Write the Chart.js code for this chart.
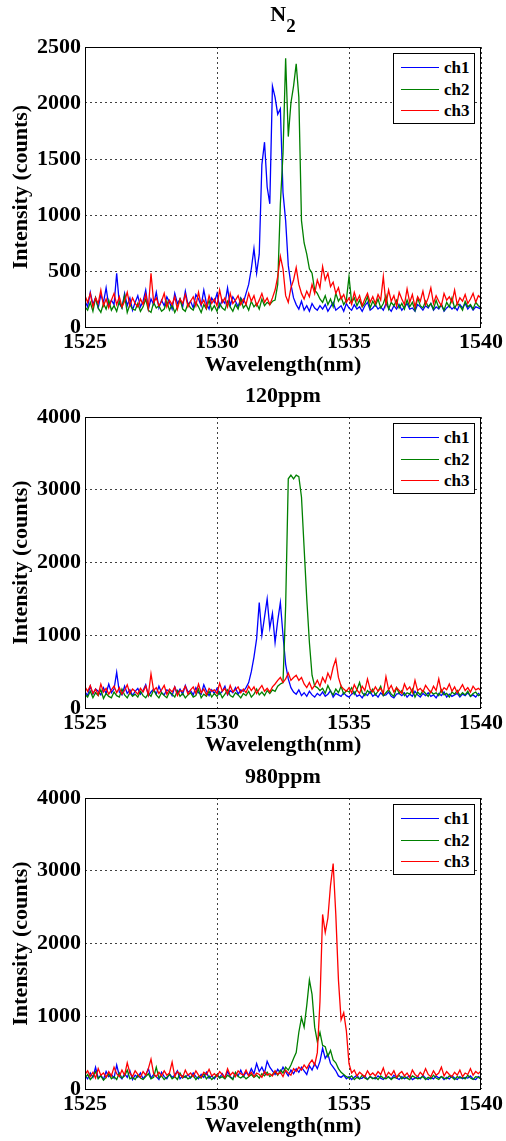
<!DOCTYPE html>
<html>
<head>
<meta charset="utf-8">
<script src="https://cdn.jsdelivr.net/npm/chart.js@4.4.1/dist/chart.umd.min.js"></script>
<style>
body { margin: 0; background: #fff; overflow: hidden; }
#wrap { position: relative; width: 506px; height: 1141px; font-family: "Liberation Serif", "Times New Roman", serif; font-weight: bold; color: #000; }
canvas { position: absolute; left: 0; }
.ttl { position: absolute; left: 183px; width: 200px; text-align: center; font-size: 22px; line-height: 22px; }
.ttl .sub { font-size: 19px; position: relative; top: 11px; }
.lgd { position: absolute; left: 393px; width: 82px; height: 71px; box-sizing: border-box; border: 1px solid #000; background: #fff; }
.row { position: absolute; left: 0; width: 80px; height: 20px; line-height: 20px; font-size: 17px; }
.row i { position: absolute; left: 7px; top: 9px; width: 38px; height: 0; border-top: 1px solid; }
.row span { position: absolute; left: 50px; }
</style>
</head>
<body>
<div id="wrap">
  <canvas id="c1" width="506" height="380" style="top:0px"></canvas>
  <canvas id="c2" width="506" height="380" style="top:380px"></canvas>
  <canvas id="c3" width="506" height="381" style="top:760px"></canvas>
  <div class="ttl" style="top:3px">N<span class="sub">2</span></div>
  <div class="ttl" style="top:384px">120ppm</div>
  <div class="ttl" style="top:765px">980ppm</div>
  <div class="lgd" style="top:53px"></div>
  <div class="lgd" style="top:423px"></div>
  <div class="lgd" style="top:804px"></div>
</div>
<script>
var wavelength = [
  1525.0,1525.1,1525.2,1525.3,1525.4,1525.5,1525.6,1525.7,1525.8,1525.9,
  1526.0,1526.1,1526.2,1526.3,1526.4,1526.5,1526.6,1526.7,1526.8,1526.9,
  1527.0,1527.1,1527.2,1527.3,1527.4,1527.5,1527.6,1527.7,1527.8,1527.9,
  1528.0,1528.1,1528.2,1528.3,1528.4,1528.5,1528.6,1528.7,1528.8,1528.9,
  1529.0,1529.1,1529.2,1529.3,1529.4,1529.5,1529.6,1529.7,1529.8,1529.9,
  1530.0,1530.1,1530.2,1530.3,1530.4,1530.5,1530.6,1530.7,1530.8,1530.9,
  1531.0,1531.1,1531.2,1531.3,1531.4,1531.5,1531.6,1531.7,1531.8,1531.9,
  1532.0,1532.1,1532.2,1532.3,1532.4,1532.5,1532.6,1532.7,1532.8,1532.9,
  1533.0,1533.1,1533.2,1533.3,1533.4,1533.5,1533.6,1533.7,1533.8,1533.9,
  1534.0,1534.1,1534.2,1534.3,1534.4,1534.5,1534.6,1534.7,1534.8,1534.9,
  1535.0,1535.1,1535.2,1535.3,1535.4,1535.5,1535.6,1535.7,1535.8,1535.9,
  1536.0,1536.1,1536.2,1536.3,1536.4,1536.5,1536.6,1536.7,1536.8,1536.9,
  1537.0,1537.1,1537.2,1537.3,1537.4,1537.5,1537.6,1537.7,1537.8,1537.9,
  1538.0,1538.1,1538.2,1538.3,1538.4,1538.5,1538.6,1538.7,1538.8,1538.9,
  1539.0,1539.1,1539.2,1539.3,1539.4,1539.5,1539.6,1539.7,1539.8,1539.9,
  1540.0
];

var channels = ['ch1', 'ch2', 'ch3'];
var colors = ['#0000ff', '#008000', '#ff0000'];

// N2
var n2Ch1 = [
  230,180,310,200,260,170,290,220,350,190,
  240,200,480,210,170,300,190,260,150,220,
  280,180,230,330,160,250,200,310,170,240,
  190,270,220,160,300,210,250,180,320,200,
  230,170,290,250,190,330,210,160,260,220,
  300,180,240,210,350,190,270,230,180,260,
  220,300,380,520,700,480,650,1450,1650,1250,
  1100,2150,2050,1900,1950,1200,950,550,380,260,
  200,160,230,150,190,140,210,170,150,190,
  160,200,140,180,220,150,170,190,140,210,
  170,150,200,160,180,140,190,220,150,170,
  200,160,180,150,210,170,140,190,160,200,
  150,180,210,160,170,140,200,180,150,190,
  170,210,150,180,160,200,140,170,190,160,
  180,150,200,170,210,160,190,150,180,170,
  160
];
var n2Ch2 = [
  180,150,220,140,260,170,130,210,160,240,
  150,190,140,230,170,280,130,200,160,150,
  210,140,180,250,150,130,220,170,190,140,
  160,230,150,200,130,180,250,160,140,210,
  170,150,220,180,130,200,160,240,150,190,
  140,210,170,150,230,180,140,200,160,250,
  170,200,150,230,180,210,160,250,190,220,
  200,230,240,380,1100,1550,2400,1700,2000,2150,
  2350,2050,950,750,650,520,480,330,300,250,
  220,280,200,250,180,300,230,270,200,240,
  450,220,260,190,240,180,210,270,170,230,
  190,250,170,210,280,160,220,190,240,170,
  210,160,240,180,220,150,260,190,170,230,
  180,210,160,240,170,200,150,220,180,260,
  170,210,190,150,230,180,200,160,220,190,
  170
];
var n2Ch3 = [
  280,220,300,180,260,210,330,190,250,170,
  240,300,200,270,180,230,310,190,260,210,
  180,250,200,290,170,480,220,260,190,230,
  300,180,240,200,270,160,250,210,290,180,
  230,270,190,310,200,240,170,280,210,250,
  190,330,220,260,180,300,210,240,280,200,
  250,200,300,230,280,190,240,300,220,260,
  200,260,330,450,630,520,280,220,350,420,
  530,380,300,250,320,270,380,300,420,350,
  540,420,480,360,400,300,350,250,290,220,
  260,200,310,230,280,190,250,300,220,270,
  210,290,240,450,200,330,230,280,190,310,
  250,200,340,220,290,180,270,230,320,200,
  260,350,210,280,230,190,300,240,270,220,
  330,200,260,230,290,210,250,300,220,280,
  260
];

// 120ppm
var p120Ch1 = [
  220,170,300,190,260,230,180,280,200,330,
  210,260,490,220,180,300,200,250,170,230,
  270,190,240,320,170,220,260,190,300,210,
  180,250,230,170,290,200,260,190,310,220,
  240,180,280,210,190,320,230,170,250,200,
  270,190,230,300,180,240,210,280,190,250,
  230,280,350,500,700,950,1450,1000,1250,1500,
  1100,1300,900,1200,1450,1000,600,400,280,220,
  190,250,170,210,160,230,180,150,200,170,
  220,160,190,240,150,200,180,160,210,170,
  150,190,220,160,180,140,200,170,230,160,
  190,150,210,170,180,220,160,140,190,200,
  170,210,150,190,160,230,180,150,200,170,
  210,160,180,140,200,170,220,150,190,160,
  180,200,150,190,170,210,160,180,150,200,
  170
];
var p120Ch2 = [
  190,150,230,140,210,170,250,130,200,160,
  140,220,170,150,260,180,140,210,160,190,
  150,230,170,140,200,160,250,180,140,210,
  170,140,220,190,150,240,160,200,140,180,
  210,150,170,260,140,190,160,230,150,200,
  160,220,140,190,250,170,150,210,180,140,
  200,170,230,150,190,260,180,220,170,240,
  200,250,230,300,330,350,1400,3150,3200,3150,
  3200,3180,2900,2200,1500,900,450,300,280,240,
  270,200,310,230,180,260,210,300,190,240,
  220,280,190,250,350,210,170,240,200,260,
  180,230,300,170,210,250,190,160,280,200,
  240,170,210,190,260,150,220,180,240,200,
  160,230,190,210,170,250,180,200,150,220,
  190,240,170,210,180,230,160,200,220,170,
  190
];
var p120Ch3 = [
  290,230,310,200,260,180,330,220,270,190,
  250,300,210,280,190,240,320,200,260,230,
  190,270,220,300,180,470,240,280,200,250,
  310,190,260,220,290,170,240,230,300,190,
  250,290,200,330,210,260,180,270,230,250,
  200,340,230,270,190,310,220,250,290,210,
  260,210,300,240,290,200,260,310,230,270,
  220,290,330,380,420,350,400,480,380,420,
  450,380,420,330,280,350,260,310,380,300,
  420,350,480,400,560,670,420,300,260,230,
  280,210,320,250,200,300,240,400,260,220,
  290,230,270,200,430,250,310,220,280,240,
  200,330,250,290,210,380,240,270,220,310,
  260,210,300,240,400,220,280,250,330,230,
  290,210,260,320,240,280,220,300,250,270,
  240
];

// 980ppm
var p980Ch1 = [
  180,140,220,160,300,150,190,130,240,170,
  200,150,330,180,140,210,160,250,130,190,
  160,220,140,190,280,150,200,170,130,230,
  170,140,210,160,190,250,140,180,160,200,
  150,220,170,140,200,160,230,150,180,140,
  190,160,210,150,240,170,140,220,180,260,
  170,230,190,280,210,350,240,300,220,380,
  300,250,200,270,220,300,240,180,260,210,
  280,230,300,250,200,320,260,350,280,380,
  560,420,480,350,300,250,180,160,190,140,
  170,130,160,190,140,150,180,130,170,150,
  140,180,150,130,170,160,140,190,150,130,
  170,140,160,180,130,150,170,140,190,150,
  130,160,140,180,150,170,130,160,140,180,
  150,130,170,140,160,150,180,140,130,170,
  150
];
var p980Ch2 = [
  150,200,130,170,240,140,180,120,160,210,
  140,170,130,220,150,180,260,140,160,130,
  190,150,130,170,210,140,160,300,150,180,
  130,160,200,140,170,130,220,150,180,140,
  160,190,130,170,150,210,140,180,130,160,
  200,150,170,140,190,160,130,230,170,150,
  180,140,170,200,160,190,150,210,180,230,
  170,200,240,190,260,220,300,260,330,420,
  500,780,980,850,1150,1500,1300,850,650,780,
  600,580,450,530,400,360,280,230,200,170,
  150,180,130,160,140,190,150,130,170,140,
  160,130,180,150,140,170,130,160,150,190,
  140,170,150,130,180,160,140,150,170,130,
  160,140,190,150,130,170,150,140,180,160,
  130,170,150,160,140,190,150,130,170,160,
  140
];
var p980Ch3 = [
  200,250,170,230,150,280,190,220,160,240,
  180,300,210,170,260,190,360,220,170,250,
  200,160,240,190,280,410,210,170,230,180,
  250,190,220,370,170,240,200,160,260,190,
  220,170,250,190,160,230,200,270,180,210,
  170,240,200,160,280,190,230,170,250,210,
  190,260,180,230,170,220,200,160,240,190,
  210,180,250,200,230,170,260,220,190,280,
  240,300,260,330,280,350,400,330,500,1200,
  2400,2150,2350,2800,3100,2400,1500,950,1050,800,
  350,220,260,180,230,200,170,250,190,220,
  180,240,200,290,170,230,190,250,160,210,
  240,180,220,160,260,200,170,230,190,280,
  200,170,250,190,220,300,180,240,200,170,
  230,190,260,170,220,200,280,190,240,210,
  250
];

var yMax = [2500, 4000, 4000];
var yStep = [500, 1000, 1000];
var allSeries = [
  [n2Ch1, n2Ch2, n2Ch3],
  [p120Ch1, p120Ch2, p120Ch3],
  [p980Ch1, p980Ch2, p980Ch3]
];

// layout per panel: canvas height, plot top, plot bottom (canvas coords)
var panelH = [380, 380, 381];
var plotTop = [47, 37, 38];
var plotBottom = [327, 328, 329];

var axisFont = { family: 'Liberation Serif', size: 22, weight: 'bold' };

var frame = {
  id: 'frame',
  afterDraw: function (chart) {
    var a = chart.chartArea, c = chart.ctx;
    c.save();
    c.strokeStyle = '#000';
    c.lineWidth = 1;
    c.strokeRect(Math.round(a.left) + 0.5, Math.round(a.top) + 0.5,
      Math.round(a.right - a.left) - 1, Math.round(a.bottom - a.top));
    c.restore();
  }
};

function plain(v) { return String(v); }

function makeChart(k) {
  var datasets = allSeries[k].map(function (s, j) {
    return {
      label: channels[j],
      data: wavelength.map(function (x, i) { return { x: x, y: s[i] }; }),
      borderColor: colors[j],
      backgroundColor: colors[j],
      borderWidth: 1.3,
      pointRadius: 0,
      tension: 0,
      order: 3 - j
    };
  });
  var xh = panelH[k] - plotBottom[k];
  return new Chart(document.getElementById('c' + (k + 1)), {
    type: 'line',
    data: { datasets: datasets },
    options: {
      responsive: false,
      animation: false,
      layout: { padding: { top: plotTop[k], right: 25, bottom: 0, left: 0 } },
      plugins: { legend: { display: false }, tooltip: { enabled: false } },
      scales: {
        x: {
          type: 'linear',
          min: 1525,
          max: 1540,
          ticks: { stepSize: 5, color: '#000', font: axisFont, padding: 2, maxRotation: 0, autoSkip: false, callback: plain },
          grid: { drawTicks: false, color: 'rgba(0,0,0,0.75)' },
          border: { display: false, dash: [2, 3] },
          title: { display: true, text: 'Wavelength(nm)', color: '#000', font: axisFont, padding: { top: 0, bottom: 1 } },
          afterFit: function (s) { s.height = xh; }
        },
        y: {
          min: 0,
          max: yMax[k],
          ticks: { stepSize: yStep[k], color: '#000', font: axisFont, padding: 4, callback: plain },
          grid: { drawTicks: false, color: 'rgba(0,0,0,0.75)' },
          border: { display: false, dash: [2, 3] },
          title: { display: true, text: 'Intensity (counts)', color: '#000', font: axisFont, padding: { top: 8, bottom: 0 } },
          afterFit: function (s) { s.width = 85; }
        }
      }
    },
    plugins: [frame]
  });
}

[0, 1, 2].forEach(makeChart);

// legends
document.querySelectorAll('.lgd').forEach(function (box) {
  channels.forEach(function (name, j) {
    var row = document.createElement('div');
    row.className = 'row';
    row.style.top = (4 + j * 21.5) + 'px';
    row.innerHTML = '<i style="color:' + colors[j] + '"></i><span>' + name + '</span>';
    box.appendChild(row);
  });
});
</script>
</body>
</html>
